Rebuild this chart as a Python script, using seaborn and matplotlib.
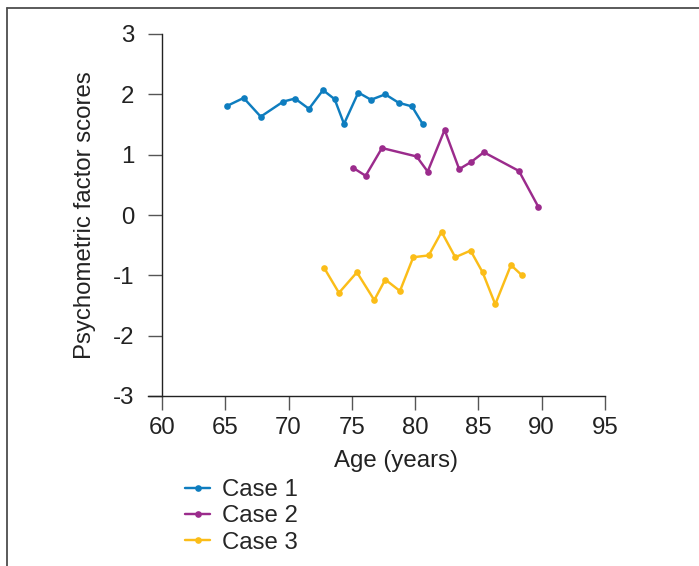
import matplotlib
matplotlib.use("Agg")
import matplotlib.pyplot as plt
import seaborn as sns
import pandas as pd
from matplotlib.lines import Line2D

case1_age = [65.16, 66.45, 67.80, 69.58, 70.51, 71.61, 72.72, 73.64, 74.38, 75.51, 76.51, 77.64, 78.70, 79.75, 80.59]
case1_score = [1.81, 1.94, 1.63, 1.88, 1.93, 1.76, 2.07, 1.92, 1.51, 2.03, 1.91, 2.00, 1.86, 1.80, 1.51]
case2_age = [75.11, 76.09, 77.38, 80.12, 80.99, 82.33, 83.48, 84.43, 85.43, 88.20, 89.72]
case2_score = [0.78, 0.65, 1.11, 0.97, 0.72, 1.41, 0.76, 0.88, 1.04, 0.73, 0.14]
case3_age = [72.82, 73.98, 75.40, 76.77, 77.64, 78.80, 79.85, 81.07, 82.09, 83.17, 84.38, 85.33, 86.33, 87.57, 88.44]
case3_score = [-0.88, -1.29, -0.95, -1.41, -1.07, -1.26, -0.70, -0.67, -0.28, -0.70, -0.59, -0.95, -1.48, -0.83, -1.00]
case_names = ["Case 1", "Case 2", "Case 3"]
colors = ["#0e7dbf", "#9b2b8c", "#fbbd18"]
x_ticks = [60, 65, 70, 75, 80, 85, 90, 95]
y_ticks = [-3, -2, -1, 0, 1, 2, 3]

df = pd.concat([
    pd.DataFrame({"age": a, "score": s, "case": n})
    for a, s, n in zip([case1_age, case2_age, case3_age],
                       [case1_score, case2_score, case3_score], case_names)
], ignore_index=True)

sns.set_style("white")
plt.rcParams["font.family"] = ["Liberation Sans", "DejaVu Sans"]
fs = 17.3
txt = "#222222"

fig = plt.figure(figsize=(6.99, 5.66), dpi=100)
ax = fig.add_axes([148 / 699, 1 - 396 / 566, 457 / 699, 362 / 566])

sns.lineplot(data=df, x="age", y="score", hue="case", palette=colors,
             marker="o", markersize=4.8, markeredgewidth=0, linewidth=1.75,
             sort=False, estimator=None, ax=ax, legend=True)

ax.spines["left"].set_position(("data", 60))
for sp in ["top", "right"]:
    ax.spines[sp].set_visible(False)
for sp in ["left", "bottom"]:
    ax.spines[sp].set_color("#222222")
    ax.spines[sp].set_linewidth(1.0)
ax.set_xlim(60 - 14 / 12.66, 95)
ax.set_ylim(-3, 3)
ax.set_xticks(x_ticks)
ax.set_yticks(y_ticks)
ax.set_xticklabels([str(t) for t in x_ticks])
ax.set_yticklabels([str(t) for t in y_ticks])
ax.tick_params(axis="both", direction="out", length=10, width=1.0, color="#555555",
               labelsize=fs, labelcolor=txt, left=True, bottom=True)
ax.tick_params(axis="x", pad=5)
ax.tick_params(axis="y", pad=10)
ax.set_xlabel("Age (years)", fontsize=fs, color=txt)
ax.xaxis.set_label_coords((396 - 148) / 457, -0.148)
ax.set_ylabel("Psychometric factor scores", fontsize=fs, color=txt, labelpad=12)

handles, labels = ax.get_legend_handles_labels()
ax.get_legend().remove()
fig.legend(handles, labels, loc="upper left", bbox_to_anchor=(185 / 699, 1 - 479 / 566),
           frameon=False, fontsize=fs, handlelength=1.05, handletextpad=0.5,
           labelspacing=0.18, borderaxespad=0, borderpad=0)

fig.add_artist(Line2D([7 / 699, 1.0], [1 - 8 / 566, 1 - 8 / 566], transform=fig.transFigure,
                      color="#4d4d4d", linewidth=1.3))
fig.add_artist(Line2D([7 / 699, 7 / 699], [1 - 8 / 566, 0], transform=fig.transFigure,
                      color="#4d4d4d", linewidth=1.3))

fig.savefig("out.png", dpi=100)
